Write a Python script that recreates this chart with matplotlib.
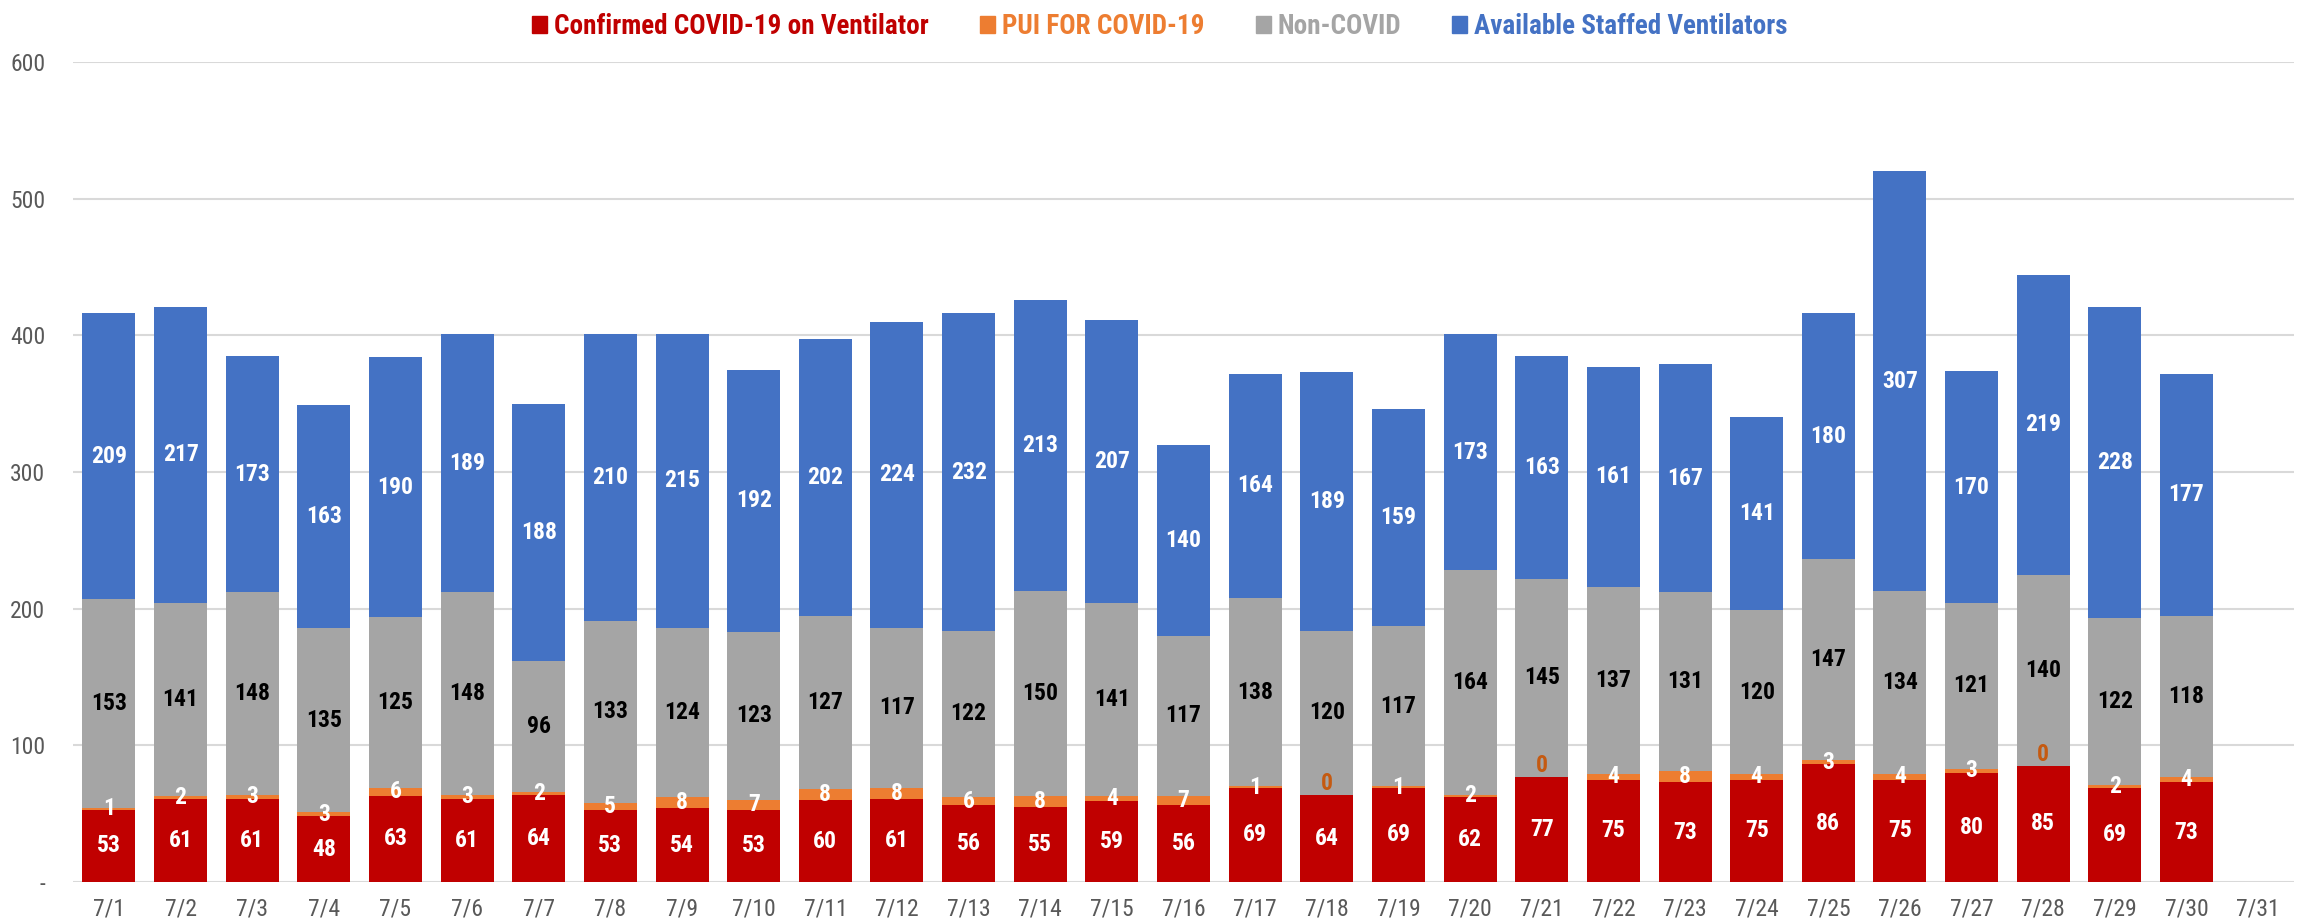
import matplotlib.pyplot as plt
from matplotlib.patches import Patch
from matplotlib import font_manager

dates = ['7/%d' % d for d in range(1, 32)]

confirmed = [53, 61, 61, 48, 63, 61, 64, 53, 54, 53, 60, 61, 56, 55, 59,
             56, 69, 64, 69, 62, 77, 75, 73, 75, 86, 75, 80, 85, 69, 73]
pui = [1, 2, 3, 3, 6, 3, 2, 5, 8, 7, 8, 8, 6, 8, 4,
       7, 1, 0, 1, 2, 0, 4, 8, 4, 3, 4, 3, 0, 2, 4]
non_covid = [153, 141, 148, 135, 125, 148, 96, 133, 124, 123, 127, 117, 122, 150, 141,
             117, 138, 120, 117, 164, 145, 137, 131, 120, 147, 134, 121, 140, 122, 118]
available = [209, 217, 173, 163, 190, 189, 188, 210, 215, 192, 202, 224, 232, 213, 207,
             140, 164, 189, 159, 173, 163, 161, 167, 141, 180, 307, 170, 219, 228, 177]

series_names = ['Confirmed COVID-19 on Ventilator', 'PUI FOR COVID-19',
                'Non-COVID', 'Available Staffed Ventilators']
colors = ['#C00000', '#ED7D31', '#A5A5A5', '#4472C4']
label_colors = ['white', 'white', 'black', 'white']

# narrow font if there is one, like Calibri in the original
names = {f.name for f in font_manager.fontManager.ttflist}
narrow = [n for n in ['Liberation Sans Narrow', 'Roboto Condensed', 'Open Sans Condensed',
                      'DejaVu Sans Condensed'] if n in names]
plt.rcParams['font.family'] = narrow + ['DejaVu Sans']
plt.rcParams['font.stretch'] = 'condensed'

fig = plt.figure(figsize=(23.06, 9.23), dpi=100)
ax = fig.add_axes([0.0317, 0.0444, 0.9631, 0.8884])

x = list(range(len(confirmed)))
bottom = [0] * len(x)
for vals, col, lcol in zip([confirmed, pui, non_covid, available], colors, label_colors):
    ax.bar(x, vals, bottom=bottom, width=0.74, color=col, zorder=3)
    for i, v in enumerate(vals):
        if v == 0:
            ax.text(i, bottom[i] + 8, '0', ha='center', va='center', color='#C55A11',
                    fontsize=17, fontweight='bold', zorder=4)
        else:
            ax.text(i, bottom[i] + v / 2, str(v), ha='center', va='center', color=lcol,
                    fontsize=17, fontweight='bold', zorder=4)
    bottom = [b + v for b, v in zip(bottom, vals)]

ax.set_xlim(-0.5, len(dates) - 0.5)
ax.set_ylim(0, 600)
ax.set_xticks(range(len(dates)))
ax.set_xticklabels(dates)
ax.set_yticks(range(0, 601, 100))
ax.set_yticklabels(['-'] + [str(v) for v in range(100, 601, 100)])
ax.tick_params(length=0, labelsize=17, colors='#595959')
ax.tick_params(axis='x', pad=11)
ax.tick_params(axis='y', pad=20)
ax.grid(axis='y', color='#D9D9D9', linewidth=1.5, zorder=0)
for s in ax.spines.values():
    s.set_visible(False)

handles = [Patch(color=c) for c in colors]
leg = fig.legend(handles, series_names, loc='upper center', bbox_to_anchor=(0.503, 1.012),
                 ncol=4, frameon=False, handlelength=0.55, handleheight=0.6,
                 handletextpad=0.25, columnspacing=1.9,
                 prop={'size': 19.5, 'weight': 'bold'})
for t, c in zip(leg.get_texts(), colors):
    t.set_color(c)

plt.savefig('out.png', dpi=100)
